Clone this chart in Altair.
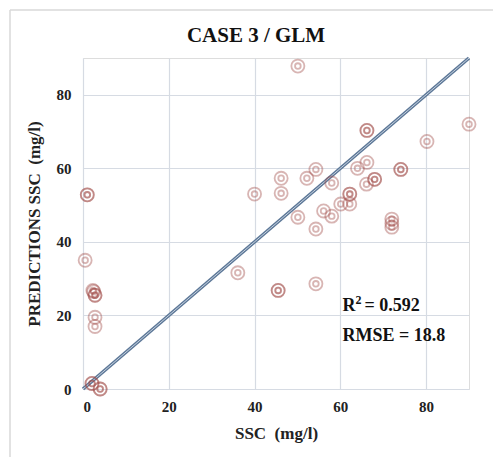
import altair as alt
import pandas as pd

ssc = [0.5, 1.0, 1.0, 2.3, 2.5, 2.8, 2.8, 2.8, 2.1, 2.1, 4.0, 4.0,
       36.1, 40.0, 46.2, 46.2, 45.5, 45.5, 50.1, 90.0, 80.2, 66.2, 66.2,
       66.2, 64.0, 74.1, 74.1, 54.3, 52.2, 68.0, 68.0, 66.1, 58.0, 62.2,
       62.2, 62.2, 60.1, 56.1, 58.0, 50.1, 54.3, 72.0, 72.0, 72.0, 54.3,
       2.8]
pred = [35.0, 52.8, 52.8, 26.8, 26.5, 25.5, 25.5, 19.5, 1.5, 1.5, 0.0, 0.0,
        31.6, 53.0, 57.3, 53.2, 26.8, 26.8, 87.8, 72.0, 67.3, 70.3, 70.3,
        61.6, 60.0, 59.7, 59.7, 59.7, 57.3, 57.0, 57.0, 55.7, 56.0, 53.0,
        53.0, 50.3, 50.3, 48.4, 47.0, 46.7, 43.5, 46.2, 45.1, 44.0, 28.6,
        17.0]

line_x = [0, 90]
title_text = "CASE 3 / GLM"
x_title = "SSC\u00a0\u00a0(mg/l)"
y_title = "PREDICTIONS SSC\u00a0\u00a0(mg/l)"
r2_value = "= 0.592"
rmse_text = "RMSE = 18.8"
stats_x = 60.5
r2_y = 22.5
rmse_y = 14.3

pts = pd.DataFrame({"x": ssc, "y": pred})
ln = pd.DataFrame({"x": line_x, "y": line_x})
r2 = pd.DataFrame({"x": [stats_x], "y": [r2_y]})
rm = pd.DataFrame({"x": [stats_x], "y": [rmse_y], "t": [rmse_text]})
one = pd.DataFrame({"t": [title_text]})

FONT = "Liberation Serif"
xs = alt.Scale(domain=[0, 90], nice=False, zero=False)
ys = alt.Scale(domain=[0, 90], nice=False, zero=False)

xaxis = alt.Axis(values=[0, 20, 40, 60, 80], title=x_title, grid=True,
                 labelFont=FONT, labelFontWeight="bold", labelFontSize=15,
                 labelColor="#222", titleFont=FONT, titleFontWeight="bold",
                 titleFontSize=17, titleColor="#222", titlePadding=11,
                 ticks=False, domain=False, labelPadding=10,
                 gridColor="#d6dbe3", gridWidth=1.2)
yaxis = alt.Axis(values=[0, 10, 20, 30, 40, 50, 60, 70, 80, 90],
                 title=y_title, grid=True,
                 labelExpr="datum.value % 20 == 0 && datum.value < 90 ? datum.label : ''",
                 labelFont=FONT, labelFontWeight="bold", labelFontSize=15,
                 labelColor="#222", titleFont=FONT, titleFontWeight="bold",
                 titleFontSize=17, titleColor="#222", titlePadding=13,
                 ticks=False, domain=False, labelPadding=12,
                 gridColor={"condition": {"test": "datum.value % 20 == 10", "value": "#eceef2"},
                            "value": "#d6dbe3"},
                 gridWidth=1.2)

base_x = alt.X("x:Q", scale=xs, axis=xaxis)
base_y = alt.Y("y:Q", scale=ys, axis=yaxis)
px = alt.X("x:Q", scale=xs)
py = alt.Y("y:Q", scale=ys)

line_outer = alt.Chart(ln).mark_line(color="#5d7898", strokeWidth=3.6).encode(x=base_x, y=base_y)
line_inner = alt.Chart(ln).mark_line(color="#c7d2df", strokeWidth=1).encode(x=px, y=py)

outer = alt.Chart(pts).mark_point(shape="circle", filled=False, size=170,
                                  stroke="#a04a46", strokeOpacity=0.58,
                                  strokeWidth=1.8).encode(x=px, y=py)
inner = alt.Chart(pts).mark_point(shape="circle", filled=False, size=32,
                                  stroke="#a04a46", strokeOpacity=0.58,
                                  strokeWidth=1.8).encode(x=px, y=py)

tstyle = dict(align="left", baseline="middle", font=FONT, fontWeight="bold", color="#111")
r_mark = alt.Chart(r2).mark_text(text="R", fontSize=18, **tstyle).encode(x=px, y=py)
sup_mark = alt.Chart(r2).mark_text(text="2", fontSize=12, dx=13, dy=-6, **tstyle).encode(x=px, y=py)
val_mark = alt.Chart(r2).mark_text(text=r2_value, fontSize=18, dx=22, **tstyle).encode(x=px, y=py)
rmse_mark = alt.Chart(rm).mark_text(fontSize=18, **tstyle).encode(x=px, y=py, text="t:N")

title_mark = alt.Chart(one).mark_text(font=FONT, fontWeight="bold", fontSize=21,
                                      color="#111", align="center", baseline="middle").encode(
    x=alt.value(173), y=alt.value(-22), text="t:N")

frame_top = alt.Chart(one).mark_rule(color="#d9d9d9", strokeWidth=1.5).encode(
    x=alt.value(-73), x2=alt.value(420), y=alt.value(-48))
frame_left = alt.Chart(one).mark_rule(color="#d9d9d9", strokeWidth=1.5).encode(
    x=alt.value(-73), y=alt.value(-48), y2=alt.value(420))

chart = alt.layer(frame_top, frame_left, line_outer, line_inner, outer, inner,
                  r_mark, sup_mark, val_mark, rmse_mark, title_mark).properties(
    width=386, height=331,
    padding={"left": 83, "top": 58, "right": 24, "bottom": 68},
    autosize="none",
).configure_view(stroke="#c9d1dc", strokeWidth=1.2).configure(background="white")

chart.save("out.html", embed_options={"renderer": "svg", "actions": False})
